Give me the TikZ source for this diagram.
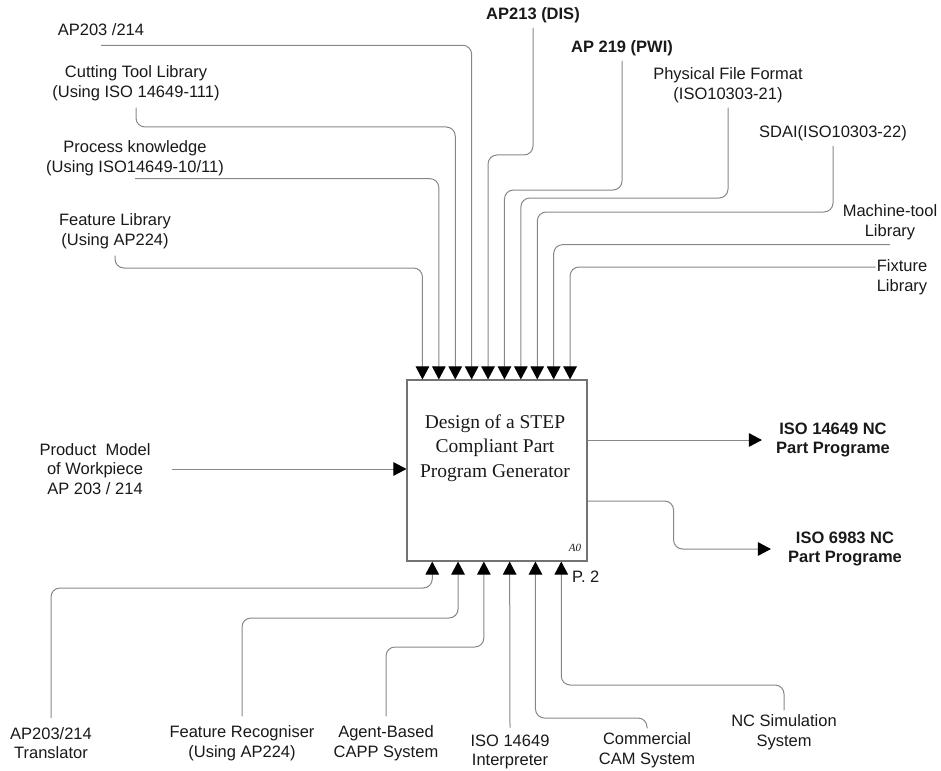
\documentclass[tikz,border=0pt]{standalone}
\usepackage{fontspec}
\setmainfont{Liberation Serif}
\setsansfont{Liberation Sans}
\usepackage{xcolor}
\usetikzlibrary{arrows.meta, positioning, calc}
\definecolor{linegray}{RGB}{135,135,135}
\definecolor{boxgray}{RGB}{115,115,115}
\definecolor{textgray}{RGB}{25,25,25}

\tikzset{
    lbl/.style={font=\sffamily\fontsize{16.5}{19.5}\selectfont, align=center, inner sep=1pt, text=textgray},
    blbl/.style={lbl, font=\sffamily\bfseries\fontsize{16.5}{19.5}\selectfont},
    flow/.style={draw=linegray, line width=1pt, rounded corners=9pt, -{Triangle[length=13pt, width=13.5pt, color=black]}},
    procbox/.style={draw=boxgray, line width=1.1pt, minimum width=180pt, minimum height=181pt, inner sep=0pt}
}

\begin{document}
\begin{tikzpicture}[x=1pt, y=-1pt]
    \useasboundingbox (0,0) rectangle (941,770);

    % activity box
    \node[procbox] (box) at (497,470.5) {};
    \node[font=\fontsize{19.5}{24.5}\selectfont, align=center, text=textgray] (title) at (495,448) {Design of a STEP\\Compliant Part\\Program Generator};
    \node[font=\fontsize{11}{12}\selectfont\itshape, text=textgray] (code) at (575,548) {A0};
    \node[lbl, anchor=west] (page) at (571,577) {P. 2};

    % entry points on the box
    \foreach \i in {1,...,10} {
        \coordinate (ctrl\i) at ($(box.north west)+(16.4*\i-0.4,0)$);
    }
    \foreach \i in {1,...,6} {
        \coordinate (mech\i) at ($(box.south west)+(25.8*\i,0)$);
    }

    % controls (top)
    \node[lbl] (ap203) at (101,30) {AP203 /214};
    \node[lbl] (cutlib) at (136,83) {Cutting Tool Library\\(Using ISO 14649-111)};
    \node[lbl] (procknow) at (135,158) {Process knowledge\\(Using ISO14649-10/11)};
    \node[lbl] (featlib) at (115,231) {Feature Library\\(Using AP224)};
    \node[blbl] (ap213) at (533,15) {AP213 (DIS)};
    \node[blbl] (ap219) at (622,48) {AP 219 (PWI)};
    \node[lbl] (pff) at (728,85) {Physical File Format\\(ISO10303-21)};
    \node[lbl] (sdai) at (833,133) {SDAI(ISO10303-22)};
    \node[lbl] (mtlib) at (890,222) {Machine-tool\\Library};
    \node[lbl] (fixlib) at (902,277) {Fixture\\Library};

    \draw[flow] ([yshift=-8pt]ap203.south) -| (ctrl4);
    \draw[flow] ([yshift=-6pt]cutlib.south) |- (ctrl3 |- 0,127) -- (ctrl3);
    \draw[flow] ([yshift=-2pt]procknow.south) -| (ctrl2);
    \draw[flow] ([yshift=-6pt]featlib.south) |- (ctrl1 |- 0,268) -- (ctrl1);
    \draw[flow] ([yshift=-4pt]ap213.south) |- (ctrl5 |- 0,155) -- (ctrl5);
    \draw[flow] ([yshift=-4pt]ap219.south) |- (ctrl6 |- 0,190) -- (ctrl6);
    \draw[flow] ([yshift=-4pt]pff.south) |- (ctrl7 |- 0,198) -- (ctrl7);
    \draw[flow] ([yshift=-4pt]sdai.south) |- (ctrl8 |- 0,212) -- (ctrl8);
    \draw[flow] ([yshift=-4pt]mtlib.south) -| (ctrl9);
    \draw[flow] (fixlib.west |- 0,267) -| (ctrl10);

    % input (left)
    \node[lbl] (product) at (95,469) {Product~ Model\\of Workpiece\\AP 203 / 214};
    \draw[flow] ([xshift=20pt]product.east) -- (product.east -| box.west);

    % outputs (right)
    \node[blbl] (nc14649) at (833,440) {ISO 14649 NC\\Part Programe};
    \node[blbl] (nc6983) at (845,549) {ISO 6983 NC\\Part Programe};
    \draw[flow] (box.east |- nc14649) -- ([xshift=-13pt]nc14649.west);
    \draw[flow] (box.east |- 0,501) -- ++(86,0) |- ([xshift=-16pt]nc6983.west);

    % mechanisms (bottom)
    \node[lbl] (trans) at (51,743) {AP203/214\\Translator};
    \node[lbl] (featrec) at (242,743) {Feature Recogniser\\(Using AP224)};
    \node[lbl] (capp) at (386,743) {Agent-Based\\CAPP System};
    \node[lbl] (interp) at (510,752) {ISO 14649\\Interpreter};
    \node[lbl] (camsys) at (647,750) {Commercial\\CAM System};
    \node[lbl] (ncsim) at (784,732) {NC Simulation\\System};

    \draw[flow] ([yshift=8pt]trans.north) |- (mech1 |- 0,588) -- (mech1);
    \draw[flow] ([yshift=8pt]featrec.north) |- (mech2 |- 0,618) -- (mech2);
    \draw[flow] ([yshift=8pt]capp.north) |- (mech3 |- 0,647) -- (mech3);
    \draw[flow] ([yshift=6pt]interp.north) -- (mech4);
    \draw[flow] ([yshift=3pt]camsys.north) |- (mech5 |- 0,718) -- (mech5);
    \draw[flow] ([yshift=3pt]ncsim.north) |- (mech6 |- 0,685) -- (mech6);
\end{tikzpicture}
\end{document}
